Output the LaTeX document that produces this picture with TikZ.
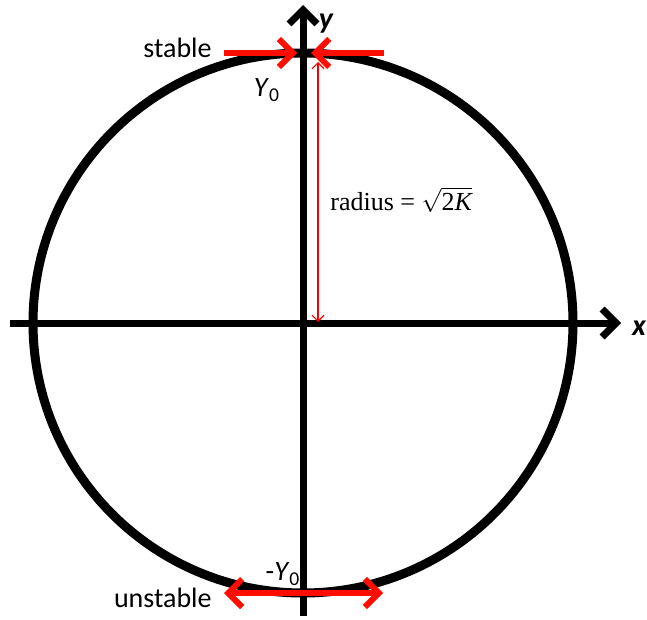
\documentclass[tikz,border=0pt]{standalone}
\usepackage{fontspec}
\setmainfont{Carlito}
\newfontfamily\serifface{Liberation Serif}
\usepackage{tikz}
\usetikzlibrary{arrows.meta}

\begin{document}
\begin{tikzpicture}[
    x=0.5pt,y=-0.5pt,
    axis/.style={line width=3.5pt,-{Straight Barb[length=7pt,width=14pt,line width=3.5pt]}},
    flow/.style={line width=3pt,red!90!orange,-{Straight Barb[length=7pt,width=14pt,line width=3pt]}},
    flows/.style={flow,{Straight Barb[length=7pt,width=14pt,line width=3pt]}-{Straight Barb[length=7pt,width=14pt,line width=3pt]}},
    lbl/.style={font=\fontsize{14}{16}\selectfont,inner sep=1pt},
  ]
  \useasboundingbox (0,0) rectangle (647,620);
  \def\R{270}   % circle radius, px

  % ---------- axes ----------
  \coordinate (O)  at (303,323);
  \coordinate (xl) at (10,323);
  \coordinate (xr) at (621,323);
  \coordinate (yb) at (303,616);
  \coordinate (yt) at (303,5);
  \draw[axis] (xl) -- (xr);
  \draw[axis] (yb) -- (yt);
  \node[lbl,font=\fontsize{15}{17}\selectfont\bfseries\itshape] (xlab) at (639,328) {x};
  \node[lbl,font=\fontsize{15}{17}\selectfont\bfseries\itshape] (ylab) at (326,24) {y};

  % ---------- circle ----------
  \draw[line width=4.5pt] (O) circle (\R);

  % ---------- stable point (top) ----------
  \coordinate (sl) at (224,53);
  \coordinate (sr) at (384,53);
  \coordinate (st) at (303,53);
  \draw[flow] (sl) -- ([xshift=-3]st);
  \draw[flow] (sr) -- ([xshift=4]st);
  \node[lbl,anchor=east] (stable) at (214,48) {stable};
  \node[lbl] (Y0) at (267,90) {\textit{Y}\textsubscript{0}};

  % ---------- unstable point (bottom) ----------
  \coordinate (ul) at (224,593);
  \coordinate (ur) at (383,593);
  \draw[flows] (ul) -- (ur);
  \node[lbl,anchor=east] (unstable) at (214,598) {unstable};
  \node[lbl] (mY0) at (283,574) {-\textit{Y}\textsubscript{0}};

  % ---------- radius ----------
  \coordinate (rt) at (318,62);
  \coordinate (rb) at (318,322);
  \draw[red,line width=0.6pt,{Straight Barb[length=3pt,width=6pt]}-{Straight Barb[length=3pt,width=6pt]}] (rt) -- (rb);
  \node[anchor=west,inner sep=0pt,font=\fontsize{13}{15}\serifface] (rad) at (330,200)
       {radius = $\sqrt{\mbox{\serifface 2\itshape K}}$};
\end{tikzpicture}
\end{document}
